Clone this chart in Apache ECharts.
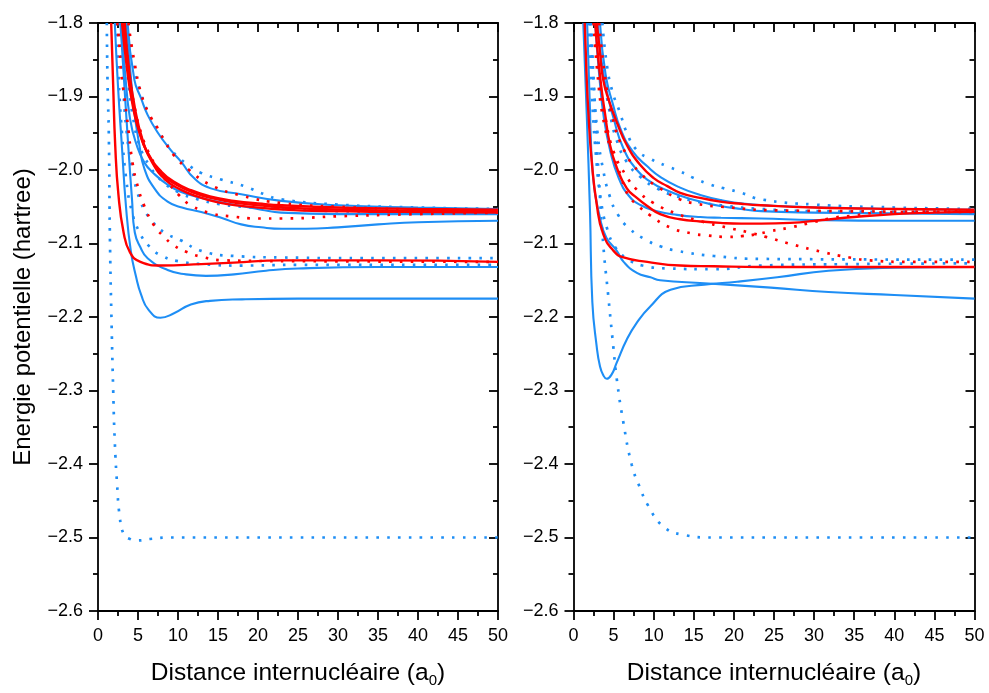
<!DOCTYPE html>
<html>
<head>
<meta charset="utf-8">
<script src="https://cdn.jsdelivr.net/npm/echarts@6/dist/echarts.min.js"></script>
<style>
html,body{margin:0;padding:0;background:#fff;overflow:hidden;}
#chart{width:989px;height:693px;}
</style>
</head>
<body>
<div id="chart"></div>
<script>
// ---------- Tick labels ----------
const xTicks = [0, 5, 10, 15, 20, 25, 30, 35, 40, 45, 50];
const yTicks = [-2.6, -2.5, -2.4, -2.3, -2.2, -2.1, -2.0, -1.9, -1.8];
const xAxisTitle = 'Distance internucléaire (a{sub|0})';
const yAxisTitle = 'Energie potentielle (hartree)';

// ---------- LEFT PANEL: [distance, energy] ----------
const leftBlueDot25 = [[1.1,-1.8],[1.2,-1.886],[1.35,-1.95],[1.5,-2.1],[1.7,-2.21],[1.9,-2.3],[2.1,-2.37],[2.4,-2.43],[2.7,-2.47],[3.2,-2.495],[4,-2.502],[5,-2.504],[6.5,-2.502],[9,-2.5],[50,-2.5]];
const leftBlueDeep = [[2.1,-1.8],[2.5,-1.886],[3.0,-1.97],[3.5,-2.05],[4.1,-2.11],[4.75,-2.145],[5.4,-2.17],[6.3,-2.19],[7.8,-2.201],[9.5,-2.195],[11.6,-2.183],[14,-2.178],[18,-2.176],[25,-2.175],[50,-2.175]];
const leftRedLow = [[1.65,-1.8],[1.9,-1.886],[2.15,-1.966],[2.55,-2.033],[3.2,-2.085],[4.0,-2.112],[5.3,-2.125],[7.9,-2.13],[12.9,-2.128],[17,-2.126],[22.9,-2.123],[35,-2.123],[50,-2.125]];
const leftBlueDip145 = [[2.8,-1.8],[3.3,-1.886],[3.8,-1.97],[4.25,-2.04],[4.6,-2.085],[5.3,-2.105],[6.2,-2.12],[8.7,-2.136],[11,-2.142],[13.5,-2.144],[17,-2.142],[21,-2.137],[25,-2.134],[35,-2.132],[50,-2.132]];
const leftBlueDot120 = [[2.7,-1.8],[3.1,-1.88],[3.6,-1.95],[4.3,-2.0],[5.4,-2.045],[6.8,-2.07],[8.3,-2.085],[10.4,-2.096],[12.9,-2.11],[17,-2.117],[23,-2.119],[35,-2.12],[50,-2.12]];
const leftBlueDot129 = [[2.3,-1.8],[2.6,-1.88],[3.0,-1.95],[3.5,-2.01],[4.2,-2.055],[5.2,-2.085],[6.5,-2.105],[8,-2.117],[10,-2.124],[13,-2.128],[18,-2.13],[25,-2.129],[50,-2.129]];
const leftRedDotLow = [[2.4,-1.8],[2.67,-1.83],[2.88,-1.866],[3.29,-1.9],[3.71,-1.937],[4.33,-1.991],[4.96,-2.022],[5.79,-2.049],[7.04,-2.076],[8.08,-2.089],[9.54,-2.103],[11.2,-2.112],[12.9,-2.118],[15.8,-2.123],[24.1,-2.124],[50,-2.125]];
const leftRedDotMid = [[3.3,-1.8],[3.8,-1.86],[4.5,-1.91],[5.4,-1.95],[6.5,-1.98],[7.6,-2.0],[8.9,-2.019],[10.2,-2.035],[11.6,-2.048],[14.1,-2.059],[16.6,-2.063],[20,-2.066],[23,-2.066],[30,-2.063],[40,-2.06],[50,-2.058]];
const leftRedDotTop = [[3.8,-1.8],[4.5,-1.85],[5.5,-1.9],[6.6,-1.928],[7.5,-1.944],[8.3,-1.96],[9.5,-1.98],[11.4,-2.0],[14,-2.02],[18,-2.035],[23,-2.045],[30,-2.05],[40,-2.054],[50,-2.056]];
const leftRedA = [[3.0,-1.8],[3.6,-1.86],[4.3,-1.91],[5.2,-1.95],[6.4,-1.98],[7.9,-2.002],[9.5,-2.016],[11.5,-2.027],[14,-2.036],[17,-2.042],[20.5,-2.046],[23,-2.048],[30,-2.051],[40,-2.053],[50,-2.054]];
const leftRedB = [[3.2,-1.8],[3.7,-1.86],[4.4,-1.91],[5.3,-1.952],[6.6,-1.985],[8.1,-2.007],[9.8,-2.02],[12,-2.031],[14.5,-2.039],[17.5,-2.045],[21,-2.049],[25,-2.052],[35,-2.055],[50,-2.056]];
const leftRedC = [[3.35,-1.8],[3.85,-1.86],[4.6,-1.915],[5.6,-1.96],[6.9,-1.992],[8.4,-2.013],[10.2,-2.026],[12.4,-2.036],[15,-2.044],[18,-2.049],[22,-2.053],[28,-2.056],[38,-2.057],[50,-2.058]];
const leftBlueBump = [[3.7,-1.8],[4.54,-1.877],[5.4,-1.903],[6.2,-1.925],[7.46,-1.949],[9.1,-1.973],[10.4,-1.989],[12,-2.011],[14.1,-2.025],[17.9,-2.033],[22.9,-2.042],[30,-2.048],[40,-2.051],[50,-2.053]];
const leftBlue060 = [[2.9,-1.8],[3.4,-1.87],[4,-1.93],[4.8,-1.965],[5.8,-1.99],[7,-2.005],[8.7,-2.02],[10.4,-2.03],[12.9,-2.038],[15.4,-2.044],[17.9,-2.049],[20.4,-2.054],[22.9,-2.058],[30,-2.06],[40,-2.06],[50,-2.06]];
const leftBlueDip081 = [[3.5,-1.8],[4.0,-1.86],[4.54,-1.921],[5.17,-1.966],[5.79,-1.998],[7.05,-2.025],[8.7,-2.043],[10.5,-2.051],[12.9,-2.057],[15.4,-2.065],[17.9,-2.074],[20.4,-2.078],[23,-2.08],[26,-2.08],[30,-2.078],[35,-2.074],[40,-2.071],[50,-2.069]];
const leftBlueDotTop = [[3.6,-1.8],[4.3,-1.85],[5.2,-1.89],[6.4,-1.925],[7.6,-1.948],[9.1,-1.972],[10.2,-1.984],[11.5,-1.995],[12.9,-2.004],[15.4,-2.013],[18.3,-2.022],[20.8,-2.033],[22.9,-2.04],[30,-2.047],[40,-2.051],[50,-2.053]];
const leftBlueDot058 = [[3.2,-1.8],[3.7,-1.87],[4.4,-1.93],[5.3,-1.97],[6.5,-1.995],[8,-2.015],[10,-2.03],[12.5,-2.04],[15,-2.046],[18,-2.05],[23,-2.053],[30,-2.056],[40,-2.058],[50,-2.058]];

// ---------- RIGHT PANEL: [distance, energy] ----------
const rightBlueDot25 = [[2.2,-1.8],[2.6,-1.9],[3.1,-2.0],[3.7,-2.1],[4.34,-2.172],[4.96,-2.24],[5.39,-2.284],[6.21,-2.343],[7.26,-2.401],[8.2,-2.43],[9.33,-2.457],[11.1,-2.484],[13.5,-2.496],[17.4,-2.5],[50,-2.5]];
const rightBlueDeep = [[1.22,-1.8],[1.65,-1.924],[2.06,-2.058],[2.35,-2.18],[2.89,-2.24],[3.3,-2.267],[3.7,-2.279],[4.14,-2.284],[4.76,-2.278],[5.39,-2.262],[6.63,-2.231],[7.88,-2.208],[9.54,-2.186],[12.1,-2.163],[16.3,-2.156],[20.4,-2.152],[25.4,-2.146],[31.8,-2.137],[40,-2.133],[50,-2.132]];
const rightBlue175 = [[1.7,-1.8],[2.0,-1.9],[2.45,-2.011],[3.3,-2.065],[4.1,-2.092],[5.4,-2.11],[6.25,-2.125],[7.9,-2.14],[9.6,-2.146],[10.8,-2.15],[16.3,-2.154],[24.6,-2.16],[31.8,-2.166],[40,-2.17],[50,-2.175]];
const rightRedLow = [[1.4,-1.8],[1.65,-1.877],[1.85,-1.921],[2.28,-1.989],[2.9,-2.047],[3.7,-2.087],[5.0,-2.11],[6.25,-2.119],[9.2,-2.125],[13.3,-2.13],[17.5,-2.131],[23.4,-2.132],[50,-2.132]];
const rightBlueDot122 = [[2.1,-1.8],[2.5,-1.88],[3.0,-1.95],[3.7,-2.0],[4.5,-2.035],[5.5,-2.06],[7.0,-2.08],[9.2,-2.096],[10.9,-2.104],[12.9,-2.11],[17.5,-2.117],[23.4,-2.121],[50,-2.122]];
const rightBlueDot128 = [[1.9,-1.8],[2.3,-1.9],[2.8,-1.98],[3.4,-2.04],[4.2,-2.08],[5.2,-2.105],[6.6,-2.12],[8.6,-2.13],[12,-2.134],[17.4,-2.135],[23.4,-2.13],[35,-2.128],[50,-2.127]];
const rightRedA = [[2.9,-1.8],[3.3,-1.84],[3.7,-1.877],[4.4,-1.905],[5.4,-1.935],[6.65,-1.966],[8.3,-1.993],[10,-2.011],[11.7,-2.022],[13.3,-2.031],[15.8,-2.038],[18.3,-2.043],[20.9,-2.046],[23.4,-2.048],[30,-2.051],[40,-2.053],[50,-2.054]];
const rightRedDip = [[2.7,-1.8],[3.1,-1.85],[3.5,-1.89],[3.9,-1.921],[4.55,-1.966],[5.4,-1.997],[6.65,-2.025],[7.9,-2.038],[9.2,-2.049],[10.8,-2.06],[13.3,-2.067],[15.8,-2.07],[18.3,-2.072],[20.9,-2.073],[23.4,-2.073],[27,-2.072],[31,-2.068],[35,-2.064],[40,-2.06],[45,-2.058],[50,-2.057]];
const rightBlueDotTop = [[3.6,-1.8],[4.2,-1.86],[4.9,-1.895],[5.8,-1.922],[6.6,-1.948],[7.9,-1.973],[9.6,-1.985],[11.5,-1.994],[13.3,-2.002],[15,-2.011],[17.1,-2.02],[18.8,-2.025],[20.9,-2.031],[23.4,-2.04],[30,-2.047],[40,-2.051],[50,-2.053]];
const rightBlueDot058 = [[3.3,-1.8],[3.8,-1.87],[4.5,-1.92],[5.4,-1.96],[6.7,-1.99],[8.4,-2.01],[10.4,-2.025],[12.9,-2.036],[15.4,-2.043],[18.4,-2.048],[23.4,-2.053],[30,-2.056],[40,-2.057],[50,-2.058]];
const rightBlue060 = [[3.0,-1.8],[3.6,-1.86],[4.3,-1.9],[5.0,-1.93],[6.2,-1.97],[7.9,-2.0],[9.6,-2.016],[11.7,-2.028],[13.9,-2.037],[15.8,-2.043],[18.3,-2.049],[20.9,-2.053],[23.4,-2.056],[30,-2.058],[40,-2.059],[50,-2.06]];
const rightBlue069 = [[2.7,-1.8],[3.2,-1.87],[3.8,-1.93],[4.6,-1.975],[5.6,-2.01],[6.9,-2.035],[8.4,-2.048],[10.4,-2.056],[12.9,-2.061],[15.8,-2.064],[18.4,-2.065],[23.4,-2.066],[30,-2.068],[40,-2.069],[50,-2.069]];
const rightBlue054 = [[3.3,-1.8],[4.0,-1.87],[4.9,-1.91],[5.9,-1.945],[7.4,-1.975],[9.2,-1.995],[10.9,-2.01],[13.3,-2.024],[15.8,-2.034],[18.4,-2.041],[21.4,-2.046],[25.4,-2.049],[35,-2.052],[50,-2.054]];
const rightRedDotMin = [[2.5,-1.8],[3.0,-1.87],[3.7,-1.93],[4.75,-1.975],[5.8,-2.005],[6.8,-2.034],[7.9,-2.047],[9.6,-2.062],[12,-2.078],[14.6,-2.086],[16.7,-2.089],[19.1,-2.091],[21,-2.09],[23,-2.087],[24.6,-2.083],[26.7,-2.079],[29.9,-2.071],[32.4,-2.065],[34.9,-2.062],[37.8,-2.058],[42,-2.057],[50,-2.056]];
const rightRedDotFall = [[2.6,-1.8],[3.2,-1.87],[4,-1.93],[5,-1.975],[6.4,-2.005],[8,-2.028],[10,-2.045],[13,-2.06],[16,-2.07],[19,-2.078],[21.9,-2.085],[24,-2.091],[27.2,-2.101],[30.8,-2.111],[34.4,-2.119],[37,-2.123],[42,-2.125],[50,-2.125]];
const rightRedDotTop = [[3.2,-1.8],[3.9,-1.87],[4.9,-1.93],[6.4,-1.975],[8.4,-2.005],[10.8,-2.025],[13.3,-2.04],[15.4,-2.046],[18.4,-2.05],[25.4,-2.055],[50,-2.057]];

// ---------- styling / assembly ----------
const BLUE = '#1e8ef5';
const RED = '#ff0000';
const FONT = '"Liberation Sans", Arial, Helvetica, sans-serif';

const curves = [
  // [data, colour, dotted, panel]
  [leftBlueDot25, BLUE, true, 0],
  [leftBlueDot120, BLUE, true, 0],
  [leftBlueDot129, BLUE, true, 0],
  [leftBlueDotTop, BLUE, true, 0],
  [leftBlueDot058, BLUE, true, 0],
  [leftBlueDeep, BLUE, false, 0],
  [leftBlueDip145, BLUE, false, 0],
  [leftBlueBump, BLUE, false, 0],
  [leftBlue060, BLUE, false, 0],
  [leftBlueDip081, BLUE, false, 0],
  [leftRedDotLow, RED, true, 0],
  [leftRedDotMid, RED, true, 0],
  [leftRedDotTop, RED, true, 0],
  [leftRedLow, RED, false, 0],
  [leftRedA, RED, false, 0],
  [leftRedB, RED, false, 0],
  [leftRedC, RED, false, 0],

  [rightBlueDot25, BLUE, true, 1],
  [rightBlueDot122, BLUE, true, 1],
  [rightBlueDot128, BLUE, true, 1],
  [rightBlueDotTop, BLUE, true, 1],
  [rightBlueDot058, BLUE, true, 1],
  [rightBlueDeep, BLUE, false, 1],
  [rightBlue175, BLUE, false, 1],
  [rightBlue060, BLUE, false, 1],
  [rightBlue069, BLUE, false, 1],
  [rightBlue054, BLUE, false, 1],
  [rightRedDotMin, RED, true, 1],
  [rightRedDotFall, RED, true, 1],
  [rightRedDotTop, RED, true, 1],
  [rightRedLow, RED, false, 1],
  [rightRedA, RED, false, 1],
  [rightRedDip, RED, false, 1]
];

const series = curves.map(([data, color, dotted, panel]) => ({
  type: 'line',
  xAxisIndex: panel * 2,
  yAxisIndex: panel * 2,
  data: data,
  showSymbol: false,
  symbol: 'none',
  smooth: 0.5,
  clip: true,
  z: color === RED ? 3 : 2,
  lineStyle: dotted
    ? { color: color, width: 2.7, type: [2.6, 8.2] }
    : { color: color, width: color === RED ? 2.4 : 2.1, type: 'solid' }
}));

const axisLineStyle = { color: '#000', width: 1.8 };
const MINUS = '\u2212';

function bottomX(gi) {
  return {
    gridIndex: gi, type: 'value', position: 'bottom',
    min: xTicks[0], max: xTicks[xTicks.length - 1], interval: xTicks[1] - xTicks[0],
    axisLine: { show: true, onZero: false, lineStyle: axisLineStyle },
    axisTick: { show: true, inside: false, length: 9, lineStyle: axisLineStyle },
    minorTick: { show: true, splitNumber: 2, length: 5, lineStyle: axisLineStyle },
    splitLine: { show: false },
    axisLabel: { fontSize: 18, color: '#000', fontFamily: FONT, margin: 16 },
    name: xAxisTitle, nameLocation: 'middle', nameGap: 48,
    nameTextStyle: {
      fontSize: 24.5, color: '#000', fontFamily: FONT,
      rich: { sub: { fontSize: 15, color: '#000', fontFamily: FONT, padding: [14, 0, 0, 0] } }
    }
  };
}
function topX(gi) {
  return {
    gridIndex: gi, type: 'value', position: 'top',
    min: xTicks[0], max: xTicks[xTicks.length - 1], interval: xTicks[1] - xTicks[0],
    axisLine: { show: true, onZero: false, lineStyle: axisLineStyle },
    axisTick: { show: true, inside: true, length: 9, lineStyle: axisLineStyle },
    minorTick: { show: true, splitNumber: 2, length: 5, lineStyle: axisLineStyle },
    splitLine: { show: false },
    axisLabel: { show: false }
  };
}
function leftY(gi, withName) {
  const ax = {
    gridIndex: gi, type: 'value', position: 'left',
    min: yTicks[0], max: yTicks[yTicks.length - 1], interval: 0.1,
    axisLine: { show: true, onZero: false, lineStyle: axisLineStyle },
    axisTick: { show: true, inside: false, length: 9, lineStyle: axisLineStyle },
    minorTick: { show: true, splitNumber: 2, length: 5, lineStyle: axisLineStyle },
    splitLine: { show: false },
    axisLabel: { fontSize: 18, color: '#000', fontFamily: FONT, margin: 15,
      formatter: v => (Math.round(v * 10) / 10).toFixed(1).replace('-', MINUS) }
  };
  if (withName) {
    ax.name = yAxisTitle;
    ax.nameLocation = 'middle';
    ax.nameGap = 63;
    ax.nameTextStyle = { fontSize: 24, color: '#000', fontFamily: FONT };
  }
  return ax;
}
function rightY(gi) {
  return {
    gridIndex: gi, type: 'value', position: 'right',
    min: yTicks[0], max: yTicks[yTicks.length - 1], interval: 0.1,
    axisLine: { show: true, onZero: false, lineStyle: axisLineStyle },
    axisTick: { show: true, inside: true, length: 9, lineStyle: axisLineStyle },
    minorTick: { show: true, splitNumber: 2, length: 5, lineStyle: axisLineStyle },
    splitLine: { show: false },
    axisLabel: { show: false }
  };
}

const chart = echarts.init(document.getElementById('chart'), null, { renderer: 'canvas' });
chart.setOption({
  animation: false,
  backgroundColor: '#fff',
  textStyle: { fontFamily: FONT },
  grid: [
    { left: 98, width: 400, top: 23, height: 594 },
    { left: 573.5, width: 401, top: 23, height: 594 }
  ],
  xAxis: [bottomX(0), topX(0), bottomX(1), topX(1)],
  yAxis: [leftY(0, true), rightY(0), leftY(1, false), rightY(1)],
  series: series
});
</script>
</body>
</html>
